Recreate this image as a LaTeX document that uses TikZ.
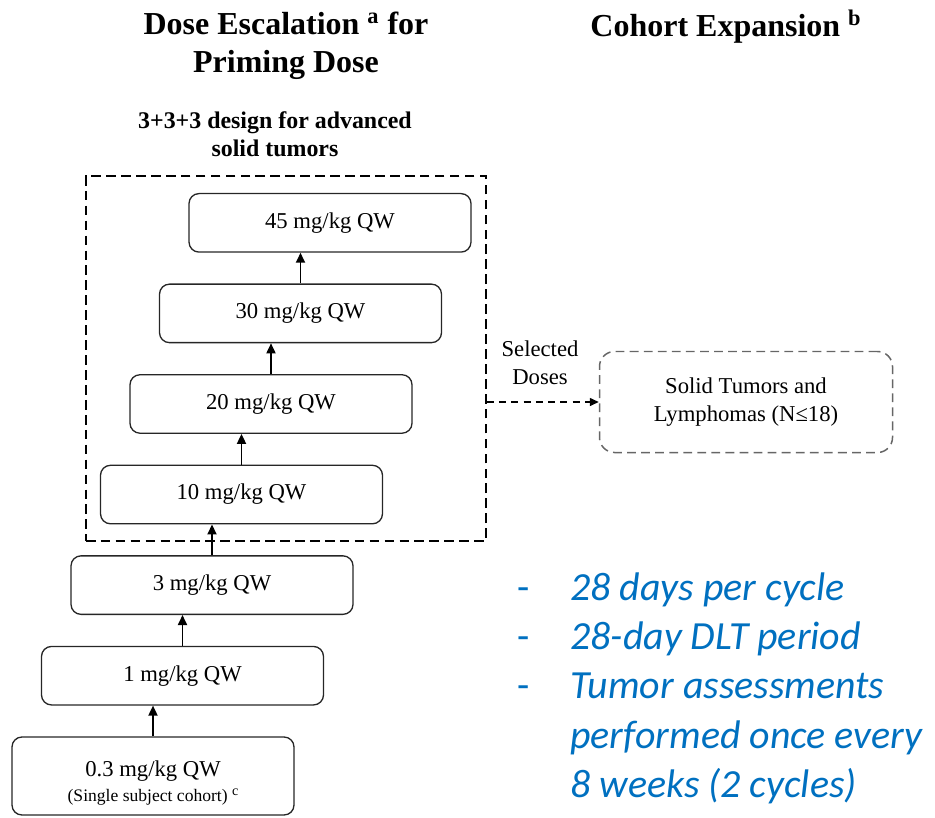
\documentclass[tikz,border=0pt]{standalone}
\usepackage{fontspec}
\setmainfont{Liberation Serif}
\newfontfamily\notefont{Carlito}
\usetikzlibrary{arrows.meta, positioning, fit}
\definecolor{noteblue}{RGB}{0,112,192}

\begin{document}
\begin{tikzpicture}[
      x=0.2mm, y=-0.2mm,
      node distance=0.615cm,
      dosebox/.style={rectangle, rounded corners=0.2cm, draw=black!85,
        line width=0.75pt, minimum width=5.64cm, minimum height=1.17cm,
        align=center, font=\fontsize{12.9}{16}\selectfont, inner sep=2pt},
      escbox/.style={rectangle, draw, line width=1.1pt,
        dash pattern=on 5.5pt off 3pt, inner xsep=0.28cm, inner ysep=0.34cm},
      cohortbox/.style={rectangle, rounded corners=0.3cm, draw=black!60,
        line width=0.85pt, dash pattern=on 5pt off 3pt, minimum width=5.86cm,
        minimum height=2.02cm, align=center, font=\fontsize{12.9}{16}\selectfont},
      heading/.style={align=center, font=\fontsize{18.2}{21.8}\selectfont\bfseries},
      arrow/.style={-{Triangle[length=2mm, width=1.8mm]}, line width=1pt}
    ]
    \useasboundingbox (0,0) rectangle (935,818);

    % ---- headings ----
    \node[heading] (ttlesc) at (286,46) {Dose Escalation \textsuperscript{a} for\\Priming Dose};
    \node[heading] (ttlexp) at (726,27) {Cohort Expansion \textsuperscript{b}};
    \node[align=center, font=\fontsize{13.6}{16}\selectfont\bfseries] (design) at (275,134)
      {3+3+3 design for advanced\\solid tumors};

    % ---- dose steps, bottom to top ----
    \node[dosebox, minimum height=1.56cm] (d03) at (153,776)
      {\rule{0pt}{17pt}0.3 mg/kg QW\\[-2pt]{\fontsize{10}{12}\selectfont (Single subject cohort)
       \raisebox{3.5pt}{\fontsize{8}{8}\selectfont c}}};
    \node[dosebox, above=of d03, xshift=0.59cm] (d1)  {1 mg/kg QW};
    \node[dosebox, above=of d1,  xshift=0.59cm] (d3)  {3 mg/kg QW};
    \node[dosebox, above=of d3,  xshift=0.59cm] (d10) {10 mg/kg QW};
    \node[dosebox, above=of d10, xshift=0.59cm] (d20) {20 mg/kg QW};
    \node[dosebox, above=of d20, xshift=0.59cm] (d30) {30 mg/kg QW};
    \node[dosebox, above=of d30, xshift=0.59cm] (d45) {45 mg/kg QW};

    \draw[arrow] (d03.north) -- (d03.north |- d1.south);
    \draw[arrow] (d1.north)  -- (d1.north |- d3.south);
    \draw[arrow] (d3.north)  -- (d3.north |- d10.south);
    \draw[arrow] (d10.north) -- (d10.north |- d20.south);
    \draw[arrow] (d20.north) -- (d20.north |- d30.south);
    \draw[arrow] (d30.north) -- (d30.north |- d45.south);

    % dashed frame round the 3+3+3 part
    \node[escbox, fit=(d10)(d20)(d30)(d45)] (esc) {};

    % ---- cohort expansion ----
    \node[cohortbox] (expand) at (746,402) {Solid Tumors and\\Lymphomas (N≤18)};
    \draw[-{Triangle[length=1.8mm, width=1.6mm]}, line width=0.85pt,
          dash pattern=on 4pt off 3pt] (esc.east |- expand) -- (expand.west);
    \node[align=center, font=\fontsize{12.9}{16}\selectfont] (sel) at (540,363)
      {Selected\\Doses};

    % ---- notes ----
    \node[anchor=base west, inner sep=0pt, text=noteblue,
          font=\notefont\fontsize{22.7}{28.1}\selectfont] (notes) at (517,600)
      {\begin{tabular}[t]{@{}p{1.06cm}@{}l@{}}
         - & \textit{28 days per cycle}\\
         - & \textit{28-day DLT period}\\
         - & \textit{Tumor assessments}\\
           & \textit{performed once every}\\
           & \textit{8 weeks (2 cycles)}
       \end{tabular}};
  \end{tikzpicture}
\end{document}
